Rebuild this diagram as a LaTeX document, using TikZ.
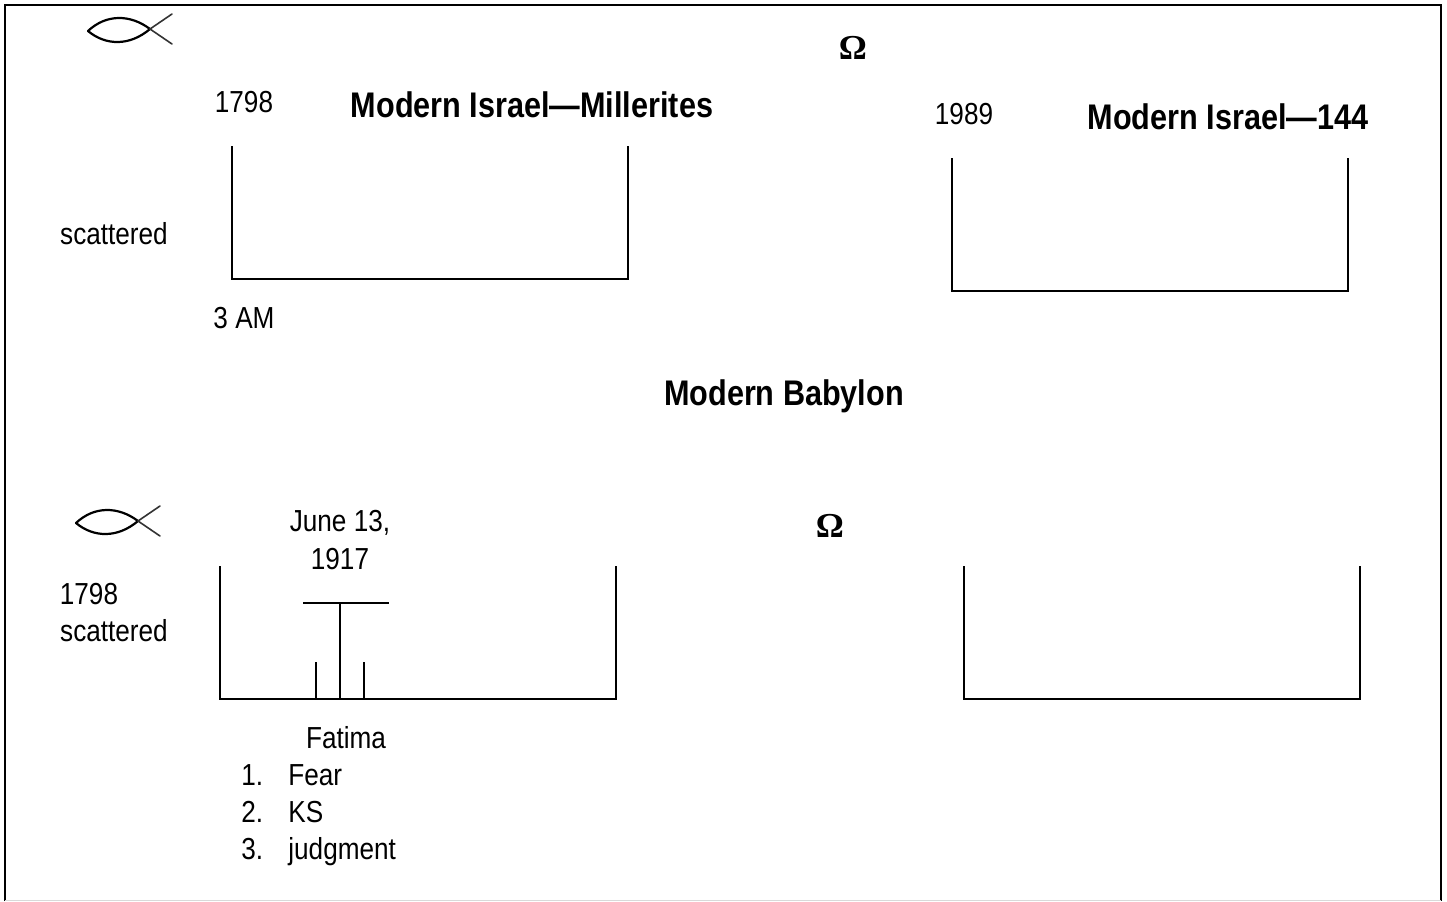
\documentclass[tikz,border=0pt]{standalone}
\usepackage{fontspec}
\setmainfont{Liberation Sans}[FakeStretch=0.86]
\newfontfamily\omegafont{Liberation Serif}[Scale=1.0]
\usetikzlibrary{positioning}

\begin{document}
\begin{tikzpicture}[
    x=0.5pt, y=-0.5pt,
    frame/.style={line width=1.4pt, black},
    rule/.style={line width=1.2pt, black},
    plain/.style={inner sep=0pt, font=\fontsize{15.2}{18.5}\selectfont, align=center, text height=11pt, text depth=3pt},
    heading/.style={inner sep=0pt, font=\fontsize{17.8}{20}\selectfont\bfseries},
    omega/.style={inner sep=0pt, font=\fontsize{17.5}{20}\selectfont\omegafont\bfseries},
    fish/.pic={
        \draw[line width=1.1pt, line cap=round] (0,0) .. controls (18,-17) and (42,-17) .. (62,-2);
        \draw[line width=1.1pt, line cap=round] (0,0) .. controls (18,15) and (42,15) .. (62,-2);
        \draw[line width=0.8pt, black!80, line cap=round] (62,-2) -- (84,13);
        \draw[line width=0.8pt, black!80, line cap=round] (62,-2) -- (84,-17);
    },
]
\useasboundingbox (0,0) rectangle (1447,901);

% Outer frame
\draw[frame] (5,901) -- (5,5) -- (1441,5) -- (1441,901);
\draw[gray!30, line width=0.5pt] (5,900.5) -- (1441,900.5);

% Upper row
\pic at (88,31) {fish};
\node[omega] (omegaup) at (853,48) {Ω};
\node[plain] (yearup) at (244,104) {1798};
\node[heading] (millerites) at (532,105) {Modern Israel—Millerites};
\node[plain] (yearright) at (964,116) {1989};
\node[heading] (israel) at (1228,117) {Modern Israel—144};
\node[plain] (scatterup) at (114,236) {scattered};
\node[plain] (watch) at (244,320) {3 AM};
\node[heading] (babylon) at (784,396) {Modern Babylon};

% Lower row
\pic at (76,523) {fish};
\node[omega] (omegalow) at (830,526) {Ω};
\node[plain, text height=, text depth=] (fatimadate) at (340,540) {June 13,\\[0.5pt]1917};
\node[plain] (yearlow) at (89,596) {1798};
\node[plain] (scatterlow) at (114,633) {scattered};
\node[plain] (fatima) at (346,740) {Fatima};
\node[plain, anchor=west] (numone) at (241,777) {1.};
\node[plain, anchor=west] (numtwo) at (241,814) {2.};
\node[plain, anchor=west] (numthree) at (241,851) {3.};
\node[plain, anchor=west] (fear) at (288,777) {Fear};
\node[plain, anchor=west] (ks) at (288,814) {KS};
\node[plain, anchor=west] (judgment) at (288,851) {judgment};

% Brackets
\foreach \xa/\xb/\ya/\yb in {232/628/146/279, 952/1348/158/291, 220/616/566/699, 964/1360/566/699}
    \draw[rule] (\xa,\ya) -- (\xa,\yb) -- (\xb,\yb) -- (\xb,\ya);

% Fatima marks
\coordinate (barleft) at (303,603);
\coordinate (barright) at (389,603);
\coordinate (barmid) at (340,603);
\draw[rule] (barleft) -- (barright);
\draw[rule] (barmid) -- (340,699);
\draw[rule] (316,662) -- (316,699);
\draw[rule] (364,662) -- (364,699);

\end{tikzpicture}
\end{document}
